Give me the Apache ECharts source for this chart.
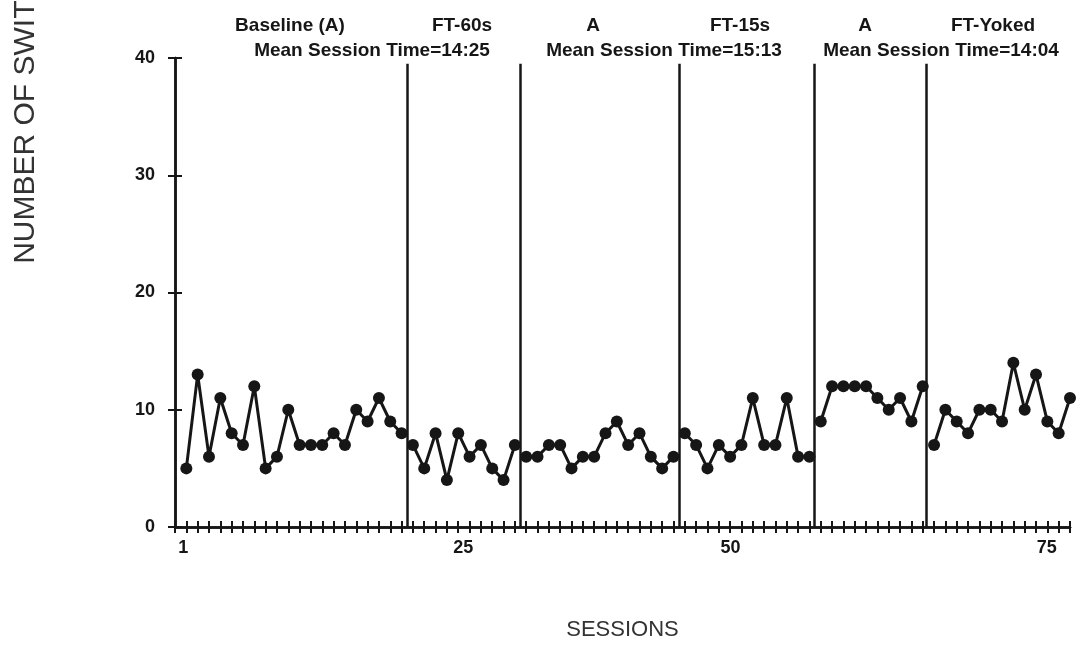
<!DOCTYPE html>
<html><head><meta charset="utf-8">
<script src="https://cdn.jsdelivr.net/npm/echarts@6/dist/echarts.min.js"></script>
<style>html,body{margin:0;padding:0;background:#fff}#c{width:1076px;height:654px}</style>
</head><body><div id="c"></div>
<script>
// ---- data ----
const phaseNames = ['Baseline (A)', 'FT-60s', 'A', 'FT-15s', 'A', 'FT-Yoked'];
const meanTimes = ['Mean Session Time=14:25', 'Mean Session Time=15:13', 'Mean Session Time=14:04'];
const baseline = [5, 13, 6, 11, 8, 7, 12, 5, 6, 10, 7, 7, 7, 8, 7, 10, 9, 11, 9, 8];
const ft60 = [7, 5, 8, 4, 8, 6, 7, 5, 4, 7];
const returnA1 = [6, 6, 7, 7, 5, 6, 6, 8, 9, 7, 8, 6, 5, 6];
const ft15 = [8, 7, 5, 7, 6, 7, 11, 7, 7, 11, 6, 6];
const returnA2 = [9, 12, 12, 12, 12, 11, 10, 11, 9, 12];
const ftYoked = [7, 10, 9, 8, 10, 10, 9, 14, 10, 13, 9, 8, 11];
const xTickLabels = [1, 25, 50, 75];
const yTickLabels = [0, 10, 20, 30, 40];
const phaseBreaks = [20.5, 30.5, 44.5, 56.4, 66.3];

const phases = [baseline, ft60, returnA1, ft15, returnA2, ftYoked];
const FONT = '"Liberation Sans", Arial, Helvetica, sans-serif';
const INK = '#161616';

let start = 1;
const series = phases.map((vals, pi) => {
  const data = vals.map((v, i) => [start + i, v]);
  start += vals.length;
  return {
    type: 'line', data, xAxisIndex: 0, yAxisIndex: 0,
    symbol: 'circle', symbolSize: 12,
    itemStyle: { color: INK }, lineStyle: { color: INK, width: 3 },
    animation: false, z: 5
  };
});
series[0].markLine = {
  silent: true, symbol: 'none', animation: false,
  lineStyle: { color: INK, width: 2.5, type: 'solid' },
  label: { show: false },
  data: phaseBreaks.map(b => [{ coord: [b, 0] }, { coord: [b, 39.5] }])
};

const totalSessions = start - 1;
const labelShift = { 1: [0, 6, 0, 0], 25: [0, 0, 0, 10], 50: [0, 22, 0, 0], 75: [0, 0, 0, 44] };
const rich = {};
xTickLabels.forEach(v => { rich['s' + v] = { padding: labelShift[v] || 0, fontSize: 18, fontWeight: 'bold', fontFamily: FONT, color: INK }; });

const axisCommon = {
  axisLine: { show: true, lineStyle: { color: INK, width: 2.5 } },
  splitLine: { show: false }
};

const topLine1 = [
  { t: phaseNames[0], x: 290 }, { t: phaseNames[1], x: 462 }, { t: phaseNames[2], x: 593 },
  { t: phaseNames[3], x: 740 }, { t: phaseNames[4], x: 865 }, { t: phaseNames[5], x: 993 }
];
const topLine2 = [{ t: meanTimes[0], x: 372 }, { t: meanTimes[1], x: 664 }, { t: meanTimes[2], x: 941 }];
const graphic = [];
topLine1.forEach(o => graphic.push({ type: 'text', x: o.x, y: 26, style: { text: o.t, fill: INK, font: 'bold 19px ' + FONT, textAlign: 'center', textVerticalAlign: 'middle' } }));
topLine2.forEach(o => graphic.push({ type: 'text', x: o.x, y: 51, style: { text: o.t, fill: INK, font: 'bold 19px ' + FONT, textAlign: 'center', textVerticalAlign: 'middle' } }));

const option = {
  backgroundColor: '#ffffff',
  animation: false,
  grid: { left: 175, right: 6, top: 58, bottom: 127, containLabel: false, outerBoundsMode: 'none' },
  xAxis: [
    Object.assign({
      type: 'value', min: 0, max: totalSessions, interval: 1,
      name: 'SESSIONS', nameLocation: 'middle', nameGap: 92,
      nameTextStyle: { fontSize: 22, fontFamily: FONT, color: '#333' },
      axisTick: { show: true, inside: false, length: 6, lineStyle: { color: INK, width: 2 } },
      axisLabel: {
        show: true, margin: 12, rich,
        formatter: v => xTickLabels.includes(v) ? '{s' + v + '|' + v + '}' : ''
      }
    }, axisCommon),
    Object.assign({
      type: 'value', min: 0, max: totalSessions, interval: 1, position: 'bottom', offset: 0,
      axisTick: { show: true, inside: true, length: 6, lineStyle: { color: INK, width: 2 } },
      axisLabel: { show: false }
    }, axisCommon)
  ],
  yAxis: [
    Object.assign({
      type: 'value', min: 0, max: 40, interval: 10,
      name: 'NUMBER OF SWITCHES', nameLocation: 'middle', nameGap: 134, nameRotate: 90,
      nameTextStyle: { fontSize: 30, fontFamily: FONT, color: '#333', padding: [0, 0, 0, 404] },
      axisTick: { show: true, inside: false, length: 7, lineStyle: { color: INK, width: 2 } },
      axisLabel: {
        margin: 20, fontSize: 18, fontWeight: 'bold', fontFamily: FONT, color: INK,
        formatter: v => yTickLabels.includes(v) ? String(v) : ''
      }
    }, axisCommon),
    Object.assign({
      type: 'value', min: 0, max: 40, interval: 10, position: 'left', offset: 0,
      axisTick: { show: true, inside: true, length: 7, lineStyle: { color: INK, width: 2 } },
      axisLabel: { show: false }
    }, axisCommon)
  ],
  graphic,
  series
};

const chart = echarts.init(document.getElementById('c'), null, { renderer: 'canvas' });
chart.setOption(option);
</script>
</body></html>
